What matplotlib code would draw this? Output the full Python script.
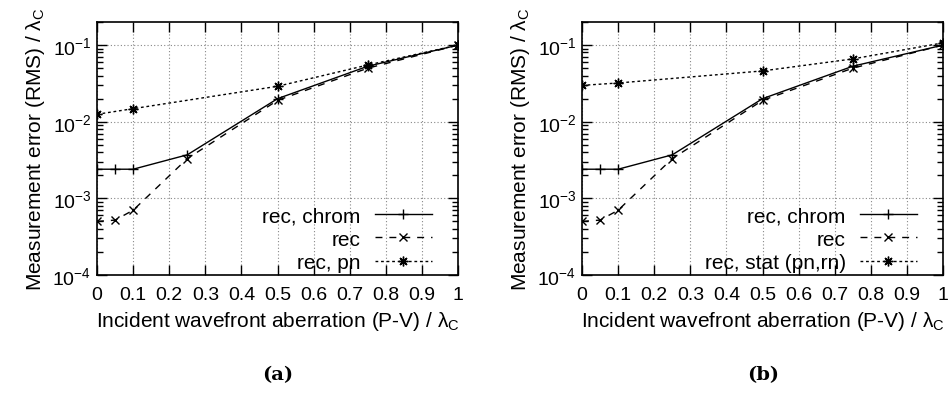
import matplotlib

matplotlib.use("Agg")
import matplotlib.pyplot as plt
from matplotlib.ticker import LogLocator, FixedFormatter, FixedLocator

plt.rcParams["font.family"] = ["Liberation Sans", "DejaVu Sans"]
plt.rcParams["mathtext.default"] = "regular"
plt.rcParams["font.size"] = 15

# incident aberration (P-V) in units of lambda_C
x_chrom = [0, 0.05, 0.1, 0.25, 0.5, 0.75, 1.0]
y_chrom = [0.0024, 0.0024, 0.0024, 0.0037, 0.020, 0.053, 0.100]

x_rec = [0, 0.05, 0.1, 0.25, 0.5, 0.75, 1.0]
y_rec = [0.00050, 0.00052, 0.00070, 0.0033, 0.019, 0.050, 0.100]

x_pn = [0, 0.1, 0.5, 0.75, 1.0]
y_pn = [0.0125, 0.0148, 0.029, 0.055, 0.100]

x_stat = [0, 0.1, 0.5, 0.75, 1.0]
y_stat = [0.0298, 0.032, 0.046, 0.066, 0.107]

x_ticks = [0, 0.1, 0.2, 0.3, 0.4, 0.5, 0.6, 0.7, 0.8, 0.9, 1.0]
x_ticklabels = ["0", "0.1", "0.2", "0.3", "0.4", "0.5", "0.6", "0.7", "0.8", "0.9", "1"]

panels = [
    ("(a)", x_pn, y_pn, "rec, pn"),
    ("(b)", x_stat, y_stat, "rec, stat (pn,rn)"),
]

asterisk = (8, 2, 0)

fig = plt.figure(figsize=(9.53, 4.14), dpi=100)
lefts = [97 / 953, 582 / 953]
for left, (tag, x3, y3, lab3) in zip(lefts, panels):
    ax = fig.add_axes([left, 1 - 276 / 414, 0.379, (276 - 23) / 414])
    ax.plot(x_chrom, y_chrom, color="black", lw=1.0, ls="-", marker="+",
            ms=7, mew=1.0, label="rec, chrom")
    ax.plot(x_rec, y_rec, color="black", lw=1.0, ls=(0, (5, 5)), marker="x",
            ms=5.5, mew=1.0, label="rec")
    ax.plot(x3, y3, color="black", lw=1.0, ls=(0, (2, 2)), marker=asterisk,
            ms=7, mew=1.0, label=lab3)

    ax.set_yscale("log")
    ax.set_xlim(0, 1)
    ax.set_ylim(1e-4, 0.2)
    ax.xaxis.set_major_locator(FixedLocator(x_ticks))
    ax.xaxis.set_major_formatter(FixedFormatter(x_ticklabels))
    ax.yaxis.set_major_locator(LogLocator(base=10, numticks=10))
    ax.yaxis.set_minor_locator(LogLocator(base=10, subs=range(2, 10), numticks=10))
    ax.tick_params(which="both", direction="in", top=True, right=True,
                   color="black", width=1.0, labelsize=14)
    ax.tick_params(which="major", length=7)
    ax.tick_params(which="minor", length=4)
    ax.tick_params(axis="x", pad=8)
    ax.tick_params(axis="y", pad=4)
    ax.grid(True, which="major", color="#888888", ls=(0, (1, 2)), lw=0.8)
    for s in ax.spines.values():
        s.set_linewidth(1.2)

    ax.set_xlabel(r"Incident wavefront aberration (P-V) / $\lambda_C$", labelpad=4)
    ax.set_ylabel(r"Measurement error (RMS) / $\lambda_C$", labelpad=4)

    ax.legend(loc="lower right", bbox_to_anchor=(0.935, 0.0), frameon=False,
              markerfirst=False, handlelength=2.7, labelspacing=0.2,
              handletextpad=0.7, borderaxespad=0.0, borderpad=0.15)

    fig.text(left + 0.19, 1 - 375 / 414, tag, ha="center", va="center",
             family="DejaVu Serif", fontweight="bold", fontsize=14)

fig.savefig("out.png", dpi=100)
